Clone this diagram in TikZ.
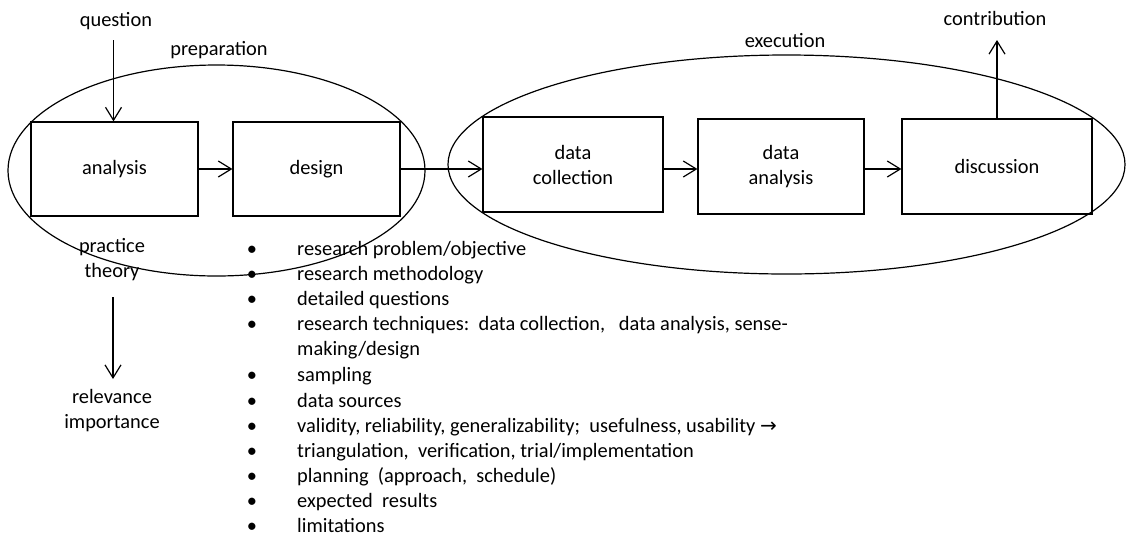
\documentclass[tikz,border=0pt]{standalone}
\usepackage{fontspec}
\setmainfont{Carlito}
\newfontfamily\symfont{DejaVu Sans}
\usetikzlibrary{shapes.geometric,arrows.meta}
\begin{document}
\begin{tikzpicture}[x=1pt,y=-1pt,
  every node/.style={font=\fontsize{20.4}{25}\selectfont, inner sep=0pt},
  box/.style={draw, line width=1.2pt, align=center},
  oval/.style={draw, ellipse, line width=1.2pt, inner sep=0pt},
  arr/.style={line width=1.2pt, -{Straight Barb[length=13pt,width=16pt,line width=1.2pt]}},
  txt/.style={align=center},
  item/.style={anchor=base west},
  dot/.style={anchor=base}]
\useasboundingbox (0,0) rectangle (1127,550);

% ovals
\node[oval, minimum width=417pt, minimum height=211pt] (prep) at (216.5,170.5) {};
\node[oval, minimum width=677pt, minimum height=219pt] (exec) at (786.5,164.5) {};

% boxes
\node[box, minimum width=167pt, minimum height=94pt] (analysis) at (114.5,169) {analysis};
\node[box, minimum width=167pt, minimum height=94pt] (design) at (316.5,169) {design};
\node[box, minimum width=180pt, minimum height=95pt] (dc) at (573,164.5) {data\\collection};
\node[box, minimum width=166pt, minimum height=95pt] (da) at (781,166.5) {data\\analysis};
\node[box, minimum width=190pt, minimum height=95pt] (disc) at (997,166.5) {discussion};

% labels
\node[txt] (question) at (116,21) {question};
\node[txt] (preparation) at (219,50) {preparation};
\node[txt] (execution) at (785,41) {execution};
\node[txt] (contribution) at (995,18) {contribution};
\node[txt] (practice) at (112,259.5) {practice\\theory};
\node[txt] (relevance) at (112,411) {relevance\\importance};

% arrows
\coordinate (qs) at (113.5,40);
\draw[arr] (qs) -- (qs |- analysis.north);
\draw[arr] (analysis.east) -- (design.west);
\draw[arr] (design.east) -- (dc.west |- design.east);
\draw[arr] (dc.east |- design.east) -- (da.west |- design.east);
\draw[arr] (da.east |- design.east) -- (disc.west |- design.east);
\coordinate (ct) at (997,40);
\draw[arr] (disc.north -| ct) -- (ct);
\coordinate (pt) at (113,297);
\coordinate (pb) at (113,379);
\draw[arr] (pt) -- (pb);

% bullet list
\foreach \yy in {255,280,305,330,381,407,432,457,482,507,532}
  \node[dot] at (252,\yy) {•};
\node[item] (i1) at (297,255) {research problem/objective};
\node[item] (i2) at (297,280) {research methodology};
\node[item] (i3) at (297,305) {detailed questions};
\node[item] (i4) at (297,330) {research techniques:\ \ data collection,\ \ \ data analysis, sense-};
\node[item] (i4b) at (297,355) {making/design};
\node[item] (i5) at (297,381) {sampling};
\node[item] (i6) at (297,407) {data sources};
\node[item] (i7) at (297,432) {validity, reliability, generalizability;\ \ usefulness, usability\ {\symfont\fontsize{20}{20}\selectfont →}};
\node[item] (i8) at (297,457) {triangulation,\ \ verification, trial/implementation};
\node[item] (i9) at (297,482) {planning\ \ (approach,\ \ schedule)};
\node[item] (i10) at (297,507) {expected\ \ results};
\node[item] (i11) at (297,532) {limitations};
\end{tikzpicture}
\end{document}
